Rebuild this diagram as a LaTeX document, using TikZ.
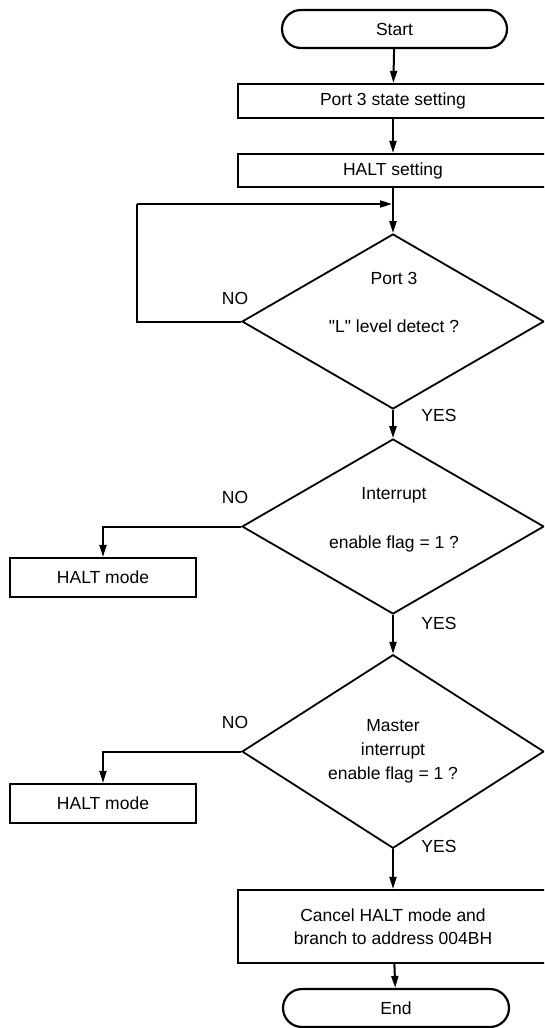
\documentclass[tikz,border=0pt]{standalone}
\usepackage{fontspec}
\setmainfont{Liberation Sans}
\newfontfamily\plainq{Liberation Sans}
\usetikzlibrary{positioning,arrows.meta,shapes.geometric}

\begin{document}
\begin{tikzpicture}[
  x=1pt, y=-1pt,
  font=\fontsize{17.5}{23}\selectfont,
  term/.style={rectangle, rounded corners=19pt, draw=black, line width=2.2pt,
               minimum height=38pt, minimum width=225pt, inner sep=0pt},
  proc/.style={rectangle, draw=black, line width=2.2pt, inner sep=0pt, align=center},
  dec/.style={diamond, draw=black, line width=1.8pt, inner sep=0pt,
              minimum width=302pt, minimum height=175pt},
  txt/.style={inner sep=0pt, align=center},
  arr/.style={-{Triangle[length=12pt,width=7pt]}, draw=black, line width=2pt},
  lin/.style={draw=black, line width=2pt}
]
\useasboundingbox (0,0) rectangle (544,1028);
\clip (0,0) rectangle (544,1028);

% main column
\node[term] (st) at (394.5,29) {Start};
\node[proc, minimum width=310pt, minimum height=34pt] (ps) at (393,101) {Port 3 state setting};
\node[proc, minimum width=310pt, minimum height=33pt] (hs) at (393,170.5) {HALT setting};
\node[dec] (d1) at (393,321.5) {};
\node[txt] (d1a) at (394,278) {Port 3};
\node[txt] (d1b) at (394,326) {\plainq "L" level detect ?};
\node[dec] (d2) at (393,526.5) {};
\node[txt] (d2a) at (394,495) {Interrupt};
\node[txt] (d2b) at (394,544) {enable flag = 1 ?};
\node[dec, align=center, font=\fontsize{17.5}{24}\selectfont] (d3) at (393,751.5)
  {Master\\interrupt\\enable flag = 1 ?};
\node[proc, minimum width=310pt, minimum height=73pt] (cb) at (393,926.5)
  {Cancel HALT mode and\\branch to address 004BH};
\node[term, minimum width=226pt] (en) at (396,1008) {End};

% side boxes
\node[proc, minimum width=186pt, minimum height=39pt] (h1) at (103,577.5) {HALT mode};
\node[proc, minimum width=186pt, minimum height=39pt] (h2) at (103,803.5) {HALT mode};

% labels
\node[txt] (n1) at (235,298) {NO};
\node[txt] (n2) at (235,497) {NO};
\node[txt] (n3) at (235,722) {NO};
\node[txt] (y1) at (439,415) {YES};
\node[txt] (y2) at (439,623) {YES};
\node[txt] (y3) at (439,846) {YES};

\coordinate (jn) at (393,204);
\coordinate (lp) at (137,204);

\draw[arr] (st) -- (ps);
\draw[arr] (ps) -- (hs);
\draw[arr] (hs) -- (d1);
\draw[lin] (d1.west) -| (lp);
\draw[arr] (lp) -- ([xshift=-1pt]jn);
\draw[arr] (d1) -- (d2);
\draw[arr] (d2.west) -| (h1.north);
\draw[arr] (d2) -- (d3);
\draw[arr] (d3.west) -| (h2.north);
\draw[arr] (d3) -- (cb);
\draw[arr] (cb) -- (en);
\end{tikzpicture}
\end{document}
